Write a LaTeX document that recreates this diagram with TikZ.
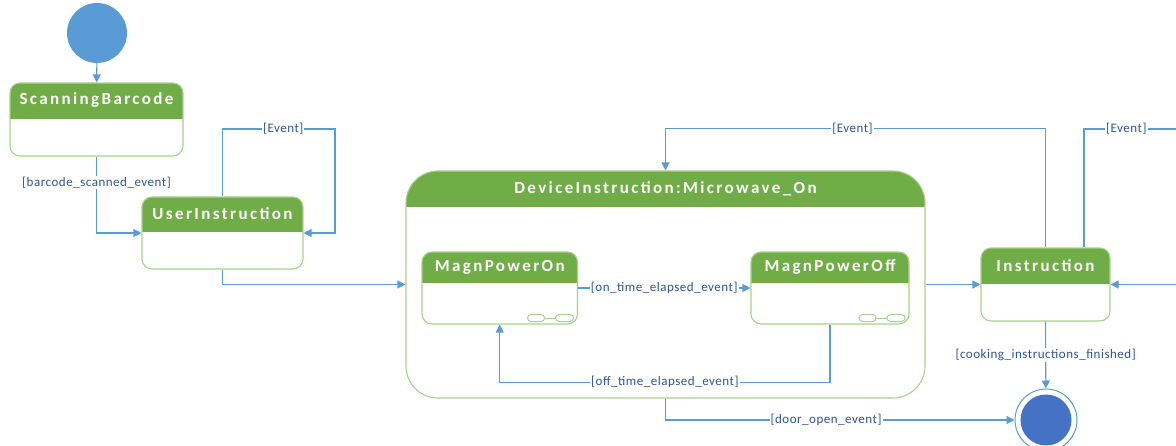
\documentclass[tikz,border=0pt]{standalone}
\usepackage{fontspec}
\setmainfont{Carlito}
\newfontfamily\hfont[LetterSpace=14]{Carlito}
\newfontfamily\lfont[LetterSpace=4]{Carlito}
\usetikzlibrary{arrows.meta}
\definecolor{hdrgreen}{HTML}{70AD47}
\definecolor{bordgreen}{HTML}{A9D18E}
\definecolor{linecol}{HTML}{5B9BD5}
\definecolor{finfill}{HTML}{4472C4}
\definecolor{lblcol}{HTML}{2F5597}
\tikzset{
  stbox/.style={draw=bordgreen, line width=1.1pt, fill=white, rounded corners=10pt, inner sep=0pt,
    path picture={\fill[hdrgreen, sharp corners] (path picture bounding box.north west) rectangle ([yshift=-#1]path picture bounding box.north east);}},
  hdrtxt/.style={text=white, font=\hfont\bfseries\fontsize{17}{20}\selectfont, inner sep=0pt},
  lbl/.style={fill=white, inner sep=1pt, text=lblcol, font=\lfont\fontsize{13}{15}\selectfont},
  conn/.style={draw=linecol, line width=1.1pt},
  arr/.style={conn, -{Triangle[length=8pt,width=8pt]}},
  icon/.style={draw=bordgreen, line width=1pt},
  mbicon/.pic={
    \draw[icon, rounded corners=3.5pt] (-50.5pt,3pt) rectangle (-33.5pt,10pt);
    \draw[icon, rounded corners=3.5pt] (-22.5pt,3pt) rectangle (-4.5pt,10pt);
    \draw[icon] (-33.5pt,6.5pt) -- (-22.5pt,6.5pt);
  }
}
\begin{document}
\begin{tikzpicture}[x=1pt,y=-1pt]
\useasboundingbox (0,0) rectangle (1176,446);

% initial and final states
\node[circle, fill=linecol, minimum size=60pt, inner sep=0pt] (init) at (97,33) {};
\node[circle, draw=linecol, line width=1pt, fill=white, minimum size=62pt, inner sep=0pt] (fin) at (1046,420) {};
\fill[finfill] (fin.center) circle (25.5pt);

% states
\node[stbox=36pt, minimum width=173pt, minimum height=73pt] (sb) at (96.5,119.5) {};
\node[hdrtxt] (sbT) at ([yshift=-18pt]sb.north) {ScanningBarcode};

\node[stbox=35pt, minimum width=161pt, minimum height=72pt] (ui) at (222.5,233) {};
\node[hdrtxt] (uiT) at ([yshift=-17.5pt]ui.north) {UserInstruction};

\node[stbox=36pt, rounded corners=32pt, minimum width=519pt, minimum height=227pt] (di) at (665.5,284.5) {};
\node[hdrtxt] (diT) at ([yshift=-18pt]di.north) {DeviceInstruction:Microwave\_On};

\node[stbox=31pt, minimum width=155.5pt, minimum height=72pt] (mon) at (499.75,288) {};
\node[hdrtxt] (monT) at ([yshift=-15.5pt]mon.north) {MagnPowerOn};
\pic at (mon.south east) {mbicon};

\node[stbox=31pt, minimum width=158pt, minimum height=72pt] (moff) at (830,288) {};
\node[hdrtxt] (moffT) at ([yshift=-15.5pt]moff.north) {MagnPowerOff};
\pic at (moff.south east) {mbicon};

\node[stbox=36pt, minimum width=129pt, minimum height=73pt] (ins) at (1045.5,284.5) {};
\node[hdrtxt] (insT) at ([yshift=-18pt]ins.north) {Instruction};

% free ends
\coordinate (uiloop) at (335,129);
\coordinate (rin) at (1176,284.5);
\coordinate (rout) at (1176,129);

% connectors
\draw[arr] (init) -- (sb);
\draw[arr] (sb.south) |- node[lbl, pos=0.17] {[barcode\_scanned\_event]} (ui.west);
\draw[arr] (ui.north) |- node[lbl, pos=0.77] {[Event]} (uiloop) |- (ui.east);
\draw[arr] (ui.south) |- (di.west);
\draw[arr] (mon.east) -- node[lbl] {[on\_time\_elapsed\_event]} (moff.west);
\draw[arr] (moff.south) -- ++(0,57.7) -| node[lbl, pos=0.25] {[off\_time\_elapsed\_event]} (mon.south);
\draw[arr] (di.east) -- (ins.west);
\draw[arr] (rin) -- (ins.east);
\draw[arr] (ins.north) -- ++(0,-119) -| node[lbl, pos=0.254] {[Event]} (di.north);
\draw[conn] ([xshift=38.5pt]ins.north) |- node[lbl, pos=0.73] {[Event]} (rout);
\draw[arr] (ins.south) -- node[lbl, pos=0.5] {[cooking\_instructions\_finished]} (fin);
\draw[arr] (di.south) |- node[lbl, pos=0.73] {[door\_open\_event]} (fin.west);
\end{tikzpicture}
\end{document}
